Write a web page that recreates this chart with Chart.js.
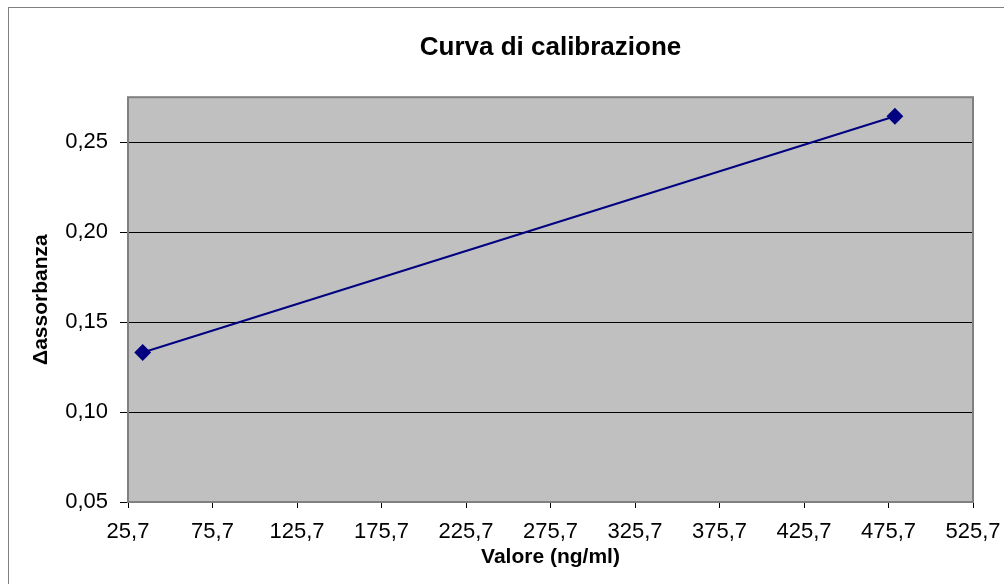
<!DOCTYPE html>
<html>
<head>
<meta charset="utf-8">
<script src="https://cdn.jsdelivr.net/npm/chart.js@4"></script>
<style>
  html, body { margin: 0; padding: 0; background: #fff; }
  #wrap { width: 1004px; height: 584px; }
</style>
</head>
<body>
<div id="wrap"><canvas id="calib-chart" width="1004" height="584"></canvas></div>
<script>
// data
const concentrations = [34.4, 479.5];
const absorbance = [0.1331, 0.2644];
const xTickValues = [25.7, 75.7, 125.7, 175.7, 225.7, 275.7, 325.7, 375.7, 425.7, 475.7, 525.7];
const yTickValues = [0.05, 0.10, 0.15, 0.20, 0.25];

const FONT = 'Liberation Sans, Arial, sans-serif';

// grey plot background, grey plot frame and the outer chart frame
const excelFrame = {
    id: 'excelFrame',
    beforeDraw(chart) {
        const { ctx, chartArea: a } = chart;
        ctx.save();
        ctx.fillStyle = '#c0c0c0';
        ctx.fillRect(a.left, a.top, a.right - a.left, a.bottom - a.top);
        ctx.strokeStyle = '#808080';
        ctx.lineWidth = 1;
        ctx.strokeRect(8.5, 7.5, chart.width, chart.height);
        ctx.restore();
    },
    afterDatasetsDraw(chart) {
        const { ctx, chartArea: a } = chart;
        ctx.save();
        ctx.strokeStyle = '#808080';
        ctx.lineWidth = 2;
        ctx.strokeRect(a.left, a.top, a.right - a.left, a.bottom - a.top);
        ctx.restore();
    }
};

let ctx = document.getElementById('calib-chart').getContext('2d');
window.calibChart = new Chart(ctx, {
    type: 'scatter',
    data: {
        datasets: [{
            label: 'Curva',
            data: concentrations.map((x, i) => ({ x: x, y: absorbance[i] })),
            showLine: true,
            borderColor: '#000080',
            backgroundColor: '#000080',
            borderWidth: 2,
            pointStyle: 'rectRot',
            pointRadius: 7,
            pointHoverRadius: 7
        }]
    },
    plugins: [excelFrame],
    options: {
        responsive: false,
        animation: false,
        layout: { padding: { left: 10, top: 8, right: 31, bottom: 0 } },
        plugins: {
            legend: { display: false },
            tooltip: { enabled: false },
            title: {
                display: true,
                fullSize: false,
                text: 'Curva di calibrazione',
                color: '#000',
                font: { family: FONT, size: 26, weight: 'bold' },
                padding: { top: 24, bottom: 34 }
            }
        },
        scales: {
            x: {
                type: 'linear',
                min: 25.7,
                max: 525.7,
                afterBuildTicks: scale => { scale.ticks = xTickValues.map(v => ({ value: v })); },
                afterFit: scale => {
                    scale.height = 82;
                    scale.paddingLeft = 0;
                    scale.paddingRight = 0;
                },
                border: { display: true, color: '#000', width: 1 },
                grid: { drawOnChartArea: false, drawTicks: true, tickLength: 6, color: '#000' },
                ticks: {
                    color: '#000',
                    font: { family: FONT, size: 22 },
                    padding: 11,
                    maxRotation: 0,
                    autoSkip: false,
                    callback: v => v.toFixed(1).replace('.', ',')
                },
                title: {
                    display: true,
                    text: 'Valore (ng/ml)',
                    color: '#000',
                    font: { family: FONT, size: 21, weight: 'bold' },
                    padding: { top: 0, bottom: 14 }
                }
            },
            y: {
                type: 'linear',
                min: 0.05,
                max: 0.275,
                afterBuildTicks: scale => { scale.ticks = yTickValues.map(v => ({ value: v })); },
                afterFit: scale => { scale.width = 118; },
                border: { display: true, color: '#000', width: 1 },
                grid: { color: '#000', lineWidth: 1, drawTicks: true, tickLength: 8 },
                ticks: {
                    color: '#000',
                    font: { family: FONT, size: 22 },
                    padding: 12,
                    callback: v => v.toFixed(2).replace('.', ',')
                },
                title: {
                    display: true,
                    text: '\u0394assorbanza',
                    color: '#000',
                    font: { family: FONT, size: 21, weight: 'bold' },
                    padding: { top: 19, bottom: 0 }
                }
            }
        }
    }
});
</script>
</body>
</html>
